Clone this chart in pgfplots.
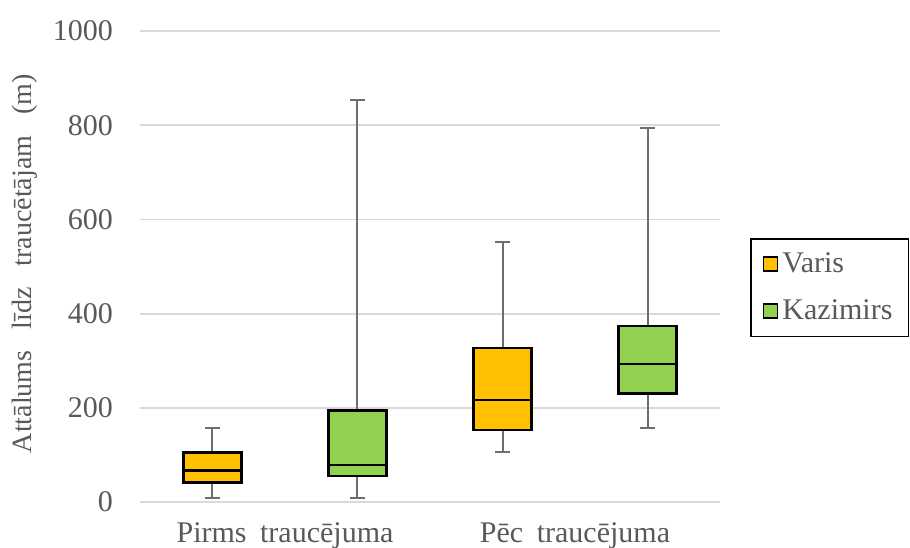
\documentclass[border=0pt]{standalone}
\usepackage{fontspec}
\setmainfont{Liberation Serif}
\usepackage{pgfplots}
\pgfplotsset{compat=1.18}
\usepgfplotslibrary{statistics}
\definecolor{cYel}{HTML}{FFC000}
\definecolor{cGrn}{HTML}{92D050}
\definecolor{txt}{HTML}{595959}
\definecolor{grd}{HTML}{D9D9D9}
\definecolor{wsk}{HTML}{6E6E6E}
\begin{document}
\begin{tikzpicture}
\begin{axis}[
 width=290pt, height=235.5pt, scale only axis,
 xmin=0, xmax=2, ymin=0, ymax=1000,
 ytick={0,200,...,1000},
 xtick={0.5,1.5},
 xticklabels={Pirms\hspace{0.45em}traucējuma, Pēc\hspace{0.45em}traucējuma},
 ymajorgrids, grid style={grd, line width=0.9pt},
 axis line style={draw=none},
 major tick length=0pt,
 tick label style={font=\fontsize{15}{17}\selectfont, text=txt},
 /pgf/number format/assume math mode=true,
 /pgf/number format/1000 sep={},
 yticklabel style={xshift=-10pt},
 xticklabel style={yshift=-7pt},
 ylabel={Attālums\hspace{0.75em}līdz\hspace{0.75em}traucētājam\hspace{0.75em}(m)},
 ylabel style={at={(axis description cs:-0.198,0.506)}, anchor=center, font=\fontsize{14}{16}\selectfont, text=txt},
 legend style={at={(axis description cs:1.052,0.455)}, anchor=west, draw=black, line width=0.7pt,
   font=\fontsize{15}{17}\selectfont, text=txt, row sep=8pt, inner xsep=6pt, inner ysep=5pt},
 legend cell align=left,
 boxplot/draw direction=y,
]
\addplot[forget plot, draw=black, fill=cYel, line width=1.2pt,
 boxplot prepared={lower whisker=9, lower quartile=41, median=67, upper quartile=105, upper whisker=157,
 draw position=0.25, box extend=0.2, whisker extend=0.05},
 boxplot/every whisker/.style={draw=wsk, line width=1pt},
 boxplot/every median/.style={draw=black, line width=1.2pt}] coordinates {};
\addplot[forget plot, draw=black, fill=cGrn, line width=1.2pt,
 boxplot prepared={lower whisker=9, lower quartile=55, median=79, upper quartile=194, upper whisker=854,
 draw position=0.75, box extend=0.2, whisker extend=0.05},
 boxplot/every whisker/.style={draw=wsk, line width=1pt},
 boxplot/every median/.style={draw=black, line width=1.2pt}] coordinates {};
\addplot[forget plot, draw=black, fill=cYel, line width=1.2pt,
 boxplot prepared={lower whisker=107, lower quartile=153, median=217, upper quartile=327, upper whisker=552,
 draw position=1.25, box extend=0.2, whisker extend=0.05},
 boxplot/every whisker/.style={draw=wsk, line width=1pt},
 boxplot/every median/.style={draw=black, line width=1.2pt}] coordinates {};
\addplot[forget plot, draw=black, fill=cGrn, line width=1.2pt,
 boxplot prepared={lower whisker=158, lower quartile=230, median=293, upper quartile=374, upper whisker=794,
 draw position=1.75, box extend=0.2, whisker extend=0.05},
 boxplot/every whisker/.style={draw=wsk, line width=1pt},
 boxplot/every median/.style={draw=black, line width=1.2pt}] coordinates {};
\addlegendimage{legend image code/.code={\draw[draw=black, fill=cYel, line width=0.8pt] (0pt,-3.5pt) rectangle (7pt,3.5pt);}}
\addlegendentry{Varis}
\addlegendimage{legend image code/.code={\draw[draw=black, fill=cGrn, line width=0.8pt] (0pt,-3.5pt) rectangle (7pt,3.5pt);}}
\addlegendentry{Kazimirs}
\end{axis}
\pgfresetboundingbox
\path[shift={(current axis.south west)}] (-70pt,-22.5pt) rectangle (385pt,251pt);
\end{tikzpicture}
\end{document}
